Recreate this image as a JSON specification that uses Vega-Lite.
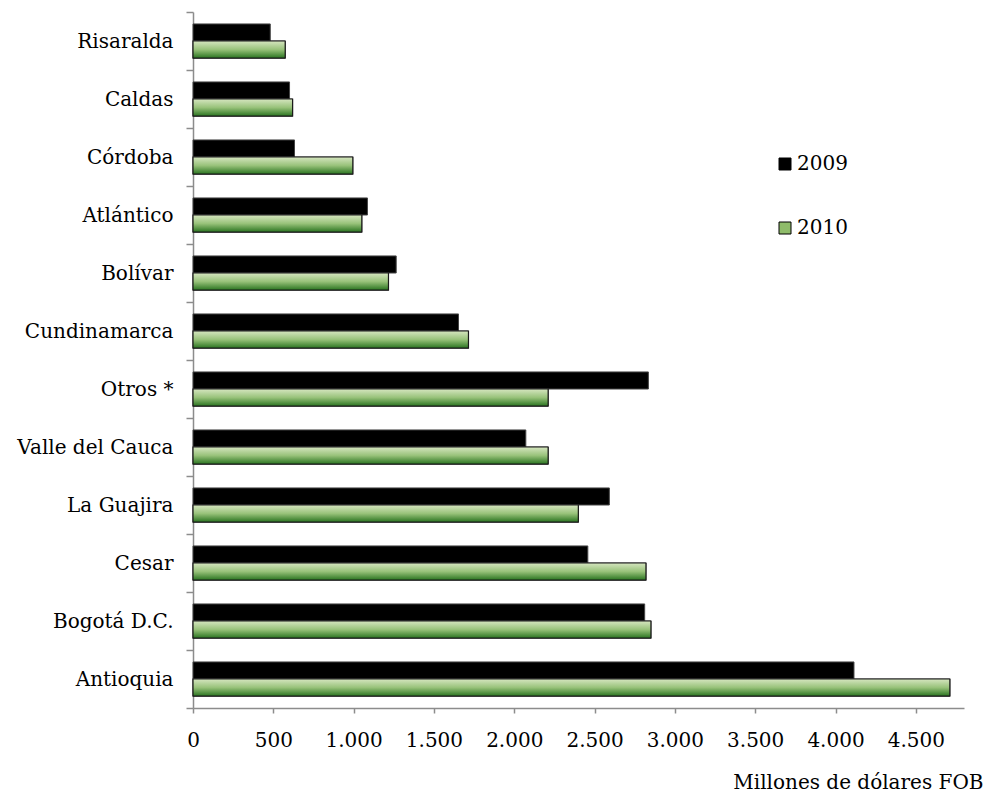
{
  "$schema": "https://vega.github.io/schema/vega-lite/v6.json",
  "width": 771,
  "height": 696,
  "autosize": {"type": "none"},
  "padding": {"left": 193, "top": 12, "right": 21, "bottom": 92},
  "background": "white",
  "config": {
    "view": {"stroke": null},
    "font": "DejaVu Serif",
    "axis": {"labelFont": "DejaVu Serif", "titleFont": "DejaVu Serif", "labelColor": "#000", "titleColor": "#000"},
    "legend": {"labelFont": "DejaVu Serif"}
  },
  "data": {
    "values": [
      {"dept": "Risaralda", "year": "2009", "value": 481},
      {"dept": "Risaralda", "year": "2010", "value": 574},
      {"dept": "Caldas", "year": "2009", "value": 601},
      {"dept": "Caldas", "year": "2010", "value": 620},
      {"dept": "Córdoba", "year": "2009", "value": 632},
      {"dept": "Córdoba", "year": "2010", "value": 995},
      {"dept": "Atlántico", "year": "2009", "value": 1086},
      {"dept": "Atlántico", "year": "2010", "value": 1051},
      {"dept": "Bolívar", "year": "2009", "value": 1265},
      {"dept": "Bolívar", "year": "2010", "value": 1217},
      {"dept": "Cundinamarca", "year": "2009", "value": 1653},
      {"dept": "Cundinamarca", "year": "2010", "value": 1715},
      {"dept": "Otros *", "year": "2009", "value": 2835},
      {"dept": "Otros *", "year": "2010", "value": 2211},
      {"dept": "Valle del Cauca", "year": "2009", "value": 2072},
      {"dept": "Valle del Cauca", "year": "2010", "value": 2211},
      {"dept": "La Guajira", "year": "2009", "value": 2592},
      {"dept": "La Guajira", "year": "2010", "value": 2399},
      {"dept": "Cesar", "year": "2009", "value": 2458},
      {"dept": "Cesar", "year": "2010", "value": 2820},
      {"dept": "Bogotá D.C.", "year": "2009", "value": 2812},
      {"dept": "Bogotá D.C.", "year": "2010", "value": 2851},
      {"dept": "Antioquia", "year": "2009", "value": 4115},
      {"dept": "Antioquia", "year": "2010", "value": 4712}
    ]
  },
  "encoding": {
    "y": {
      "field": "dept",
      "type": "nominal",
      "scale": {
        "domain": ["Risaralda", "Caldas", "Córdoba", "Atlántico", "Bolívar", "Cundinamarca", "Otros *", "Valle del Cauca", "La Guajira", "Cesar", "Bogotá D.C.", "Antioquia"],
        "paddingInner": 0,
        "paddingOuter": 0
      },
      "axis": {
        "title": null,
        "tickBand": "extent",
        "domainColor": "#8c8c8c",
        "domainWidth": 1.5,
        "tickColor": "#8c8c8c",
        "tickWidth": 1.5,
        "tickSize": 7,
        "labelPadding": 13,
        "labelFontSize": 20
      }
    },
    "yOffset": {"field": "year", "type": "nominal", "scale": {"domain": ["2009", "2010"], "paddingInner": 0, "paddingOuter": 0.7}},
    "x": {
      "field": "value",
      "type": "quantitative",
      "scale": {"domain": [0, 4800], "nice": false, "zero": true},
      "axis": {
        "title": "Millones de dólares FOB",
        "values": [0, 500, 1000, 1500, 2000, 2500, 3000, 3500, 4000, 4500],
        "labelExpr": "replace(format(datum.value, ','), ',', '.')",
        "grid": false,
        "domainColor": "#8c8c8c",
        "domainWidth": 1.5,
        "tickColor": "#8c8c8c",
        "tickWidth": 1.5,
        "tickSize": 5,
        "labelPadding": 17,
        "labelFontSize": 20,
        "labelFlush": false,
        "labelOverlap": false,
        "titleFontSize": 20,
        "titleFontWeight": "normal",
        "titleAlign": "right",
        "titleAnchor": null,
        "titleBaseline": "middle",
        "titleX": 790,
        "titleY": 74
      }
    }
  },
  "layer": [
    {
      "mark": {"type": "bar", "stroke": "#444", "strokeWidth": 1},
      "encoding": {
        "color": {
          "field": "year",
          "type": "nominal",
          "scale": {"domain": ["2009", "2010"], "range": ["#000000", "#8fbc6a"]},
          "legend": {
            "title": null,
            "orient": "none",
            "legendX": 582,
            "legendY": 142,
            "symbolType": "square",
            "symbolSize": 144,
            "symbolStrokeColor": "#000",
            "symbolStrokeWidth": 1,
            "symbolOpacity": 1,
            "labelFontSize": 20,
            "labelOffset": 2,
            "rowPadding": 44
          }
        }
      }
    },
    {
      "transform": [{"filter": "datum.year == '2010'"}],
      "mark": {
        "type": "bar",
        "stroke": "#1a1a1a",
        "strokeWidth": 1.2,
        "fill": {
          "gradient": "linear",
          "x1": 0, "y1": 0, "x2": 0, "y2": 1,
          "stops": [
            {"offset": 0, "color": "#d6e6c0"},
            {"offset": 0.5, "color": "#98c27a"},
            {"offset": 1, "color": "#2a7420"}
          ]
        }
      },
      "encoding": {}
    }
  ]
}
